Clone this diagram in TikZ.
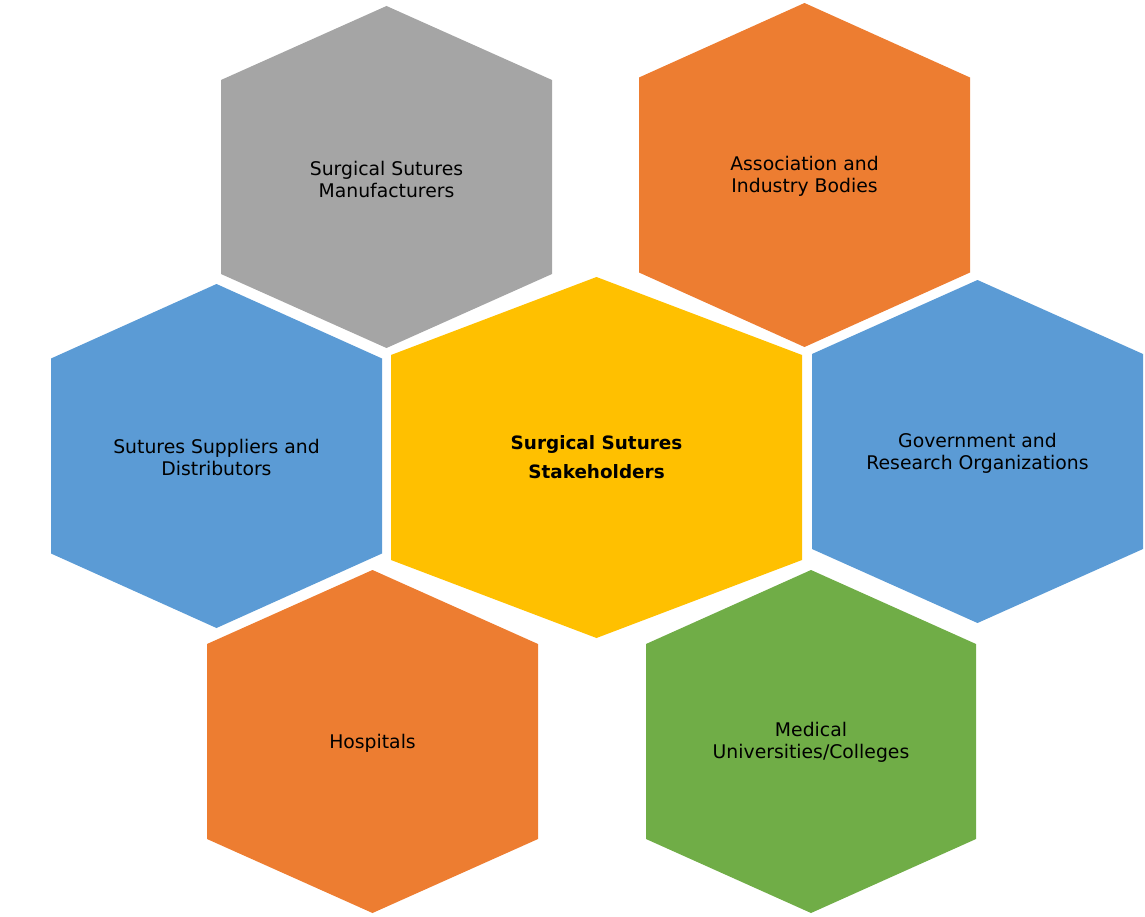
\documentclass[tikz,border=0pt]{standalone}
\usepackage{fontspec}
\setmainfont{DejaVu Sans}
\usepackage{xcolor}
\usepackage{tikz}
\usetikzlibrary{shapes,positioning}

\definecolor{hexgray}{HTML}{A5A5A5}
\definecolor{hexorange}{HTML}{ED7D31}
\definecolor{hexblue}{HTML}{5B9BD5}
\definecolor{hexyellow}{HTML}{FFC000}
\definecolor{hexgreen}{HTML}{70AD47}

% hexagon: center x, center y, half width, half height, half side, colour
\newcommand{\hexcell}[6]{%
  \fill[#6] (#1,#2-#4) -- (#1+#3,#2-#5) -- (#1+#3,#2+#5) -- (#1,#2+#4)
    -- (#1-#3,#2+#5) -- (#1-#3,#2-#5) -- cycle;}

\begin{document}
\begin{tikzpicture}[x=1pt,y=-1pt,
    label/.style={align=center,font=\fontsize{18.8}{22}\selectfont},
    title/.style={align=center,font=\fontsize{18.4}{29}\selectfont\bfseries}]
    \useasboundingbox (0,0) rectangle (1145,917);
    \hexcell{386.5}{177}{165.5}{171}{97}{hexgray}
    \hexcell{804.5}{175}{165.5}{172}{97.5}{hexorange}
    \hexcell{596.5}{457.5}{205.5}{180.5}{102.5}{hexyellow}
    \hexcell{216.5}{456}{165.5}{172}{97.5}{hexblue}
    \hexcell{977.5}{451.5}{165.5}{171.5}{97.5}{hexblue}
    \hexcell{372.5}{741.5}{165.5}{171.5}{97.5}{hexorange}
    \hexcell{811}{741.5}{165}{171.5}{97.5}{hexgreen}
    \node[title] (hub) at (596.5,457) {Surgical Sutures\\Stakeholders};
    \node[label] (makers) at (386.5,179) {Surgical Sutures\\Manufacturers};
    \node[label] (bodies) at (804.5,176) {Association and\\Industry Bodies};
    \node[label] (suppliers) at (216.5,457) {Sutures Suppliers and\\Distributors};
    \node[label] (govt) at (977.5,453) {Government and\\Research Organizations};
    \node[label] (hospitals) at (372.5,743) {Hospitals};
    \node[label] (colleges) at (811,742) {Medical\\Universities/Colleges};
\end{tikzpicture}
\end{document}
